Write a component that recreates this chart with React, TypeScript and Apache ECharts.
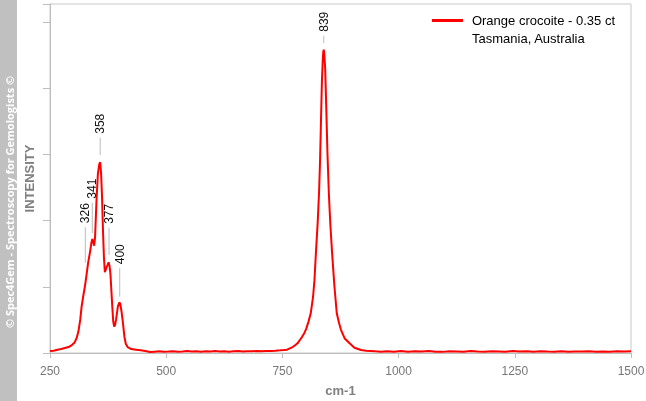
import React, { useEffect, useRef } from "react";
import * as echarts from "echarts";

const wavenumber = [
  250, 258, 266, 274, 282, 290, 297, 303, 307, 311, 315, 318, 322, 325, 328, 332, 336, 339, 341, 343,
  345, 347, 350, 353, 356, 358, 360, 362, 364, 366, 368, 370, 372, 374, 376, 378, 380, 382, 384, 386,
  388, 390, 392, 394, 396, 399, 401, 404, 407, 410, 413, 417, 425, 435, 445, 455, 465, 475, 485, 495,
  505, 515, 525, 535, 545, 555, 565, 575, 585, 595, 605, 615, 625, 635, 645, 655, 665, 675, 685, 695,
  705, 715, 725, 735, 745, 753, 760, 766, 772, 778, 783, 788, 792, 797, 801, 806, 811, 816, 819, 822,
  826, 829, 831, 833, 835, 837, 838, 839, 840, 842, 844, 847, 850, 853, 857, 862, 867, 872, 876, 884,
  894, 905, 919, 930, 940, 950, 962, 975, 990, 1005, 1020, 1035, 1050, 1065, 1080, 1095, 1110, 1125,
  1140, 1155, 1170, 1185, 1200, 1215, 1230, 1245, 1260, 1275, 1290, 1305, 1320, 1335, 1350, 1365, 1380,
  1395, 1410, 1425, 1440, 1455, 1470, 1485, 1500,
];

const intensity = [
  0.03, 0.035, 0.05, 0.06, 0.075, 0.09, 0.12, 0.16, 0.22, 0.32, 0.5, 0.7, 0.88, 1.0, 1.15, 1.36, 1.52, 1.66, 1.72, 1.68,
  1.62, 1.75, 2.3, 2.7, 2.85, 2.88, 2.7, 2.35, 1.85, 1.45, 1.22, 1.26, 1.3, 1.33, 1.37, 1.32, 1.2, 0.95, 0.7, 0.48,
  0.4, 0.42, 0.5, 0.6, 0.7, 0.76, 0.75, 0.62, 0.45, 0.25, 0.14, 0.09, 0.06, 0.05, 0.04, 0.03, 0.015, 0.02, 0.025, 0.018,
  0.022, 0.028, 0.02, 0.024, 0.03, 0.022, 0.026, 0.02, 0.028, 0.024, 0.03, 0.022, 0.027, 0.02, 0.025, 0.03, 0.022, 0.028, 0.025, 0.03,
  0.026, 0.03, 0.032, 0.035, 0.04, 0.045, 0.05, 0.07, 0.09, 0.12, 0.15, 0.2, 0.24, 0.3, 0.36, 0.47, 0.6, 0.85, 1.1, 1.5,
  1.98, 2.45, 2.9, 3.5, 4.1, 4.45, 4.55, 4.58, 4.52, 4.3, 3.8, 3.0, 2.4, 1.96, 1.5, 1.0, 0.6, 0.45, 0.35, 0.22,
  0.15, 0.08, 0.045, 0.035, 0.03, 0.025, 0.02, 0.025, 0.02, 0.03, 0.018, 0.026, 0.022, 0.03, 0.02, 0.017, 0.028, 0.024, 0.02,
  0.03, 0.022, 0.018, 0.027, 0.023, 0.019, 0.029, 0.021, 0.025, 0.018, 0.027, 0.022, 0.02, 0.028, 0.019, 0.024, 0.021,
  0.026, 0.018, 0.023, 0.02, 0.027, 0.022, 0.025,
];

const peakPositions = [326, 341, 358, 377, 400, 839];
const peakLineBottom = [1.36, 1.81, 2.99, 1.48, 0.85, 4.68];
const peakLineTop = [1.9, 2.27, 3.25, 1.89, 1.28, 4.79];

const xTicks = [250, 500, 750, 1000, 1250, 1500];

const seriesName = "Orange crocoite - 0.35 ct";
const seriesSubtitle = "Tasmania, Australia";
const watermark = "© Spec4Gem - Spectroscopy for Gemologists ©";

export default function App() {
  const ref = useRef<HTMLDivElement>(null);
  useEffect(() => {
    const chart = echarts.init(ref.current!, null, { renderer: "svg" });
    const axisColor = "#bdbdbd";
    chart.setOption({
      animation: false,
      grid: {
        left: 50,
        right: 15,
        top: 4,
        bottom: 48,
        show: true,
        borderColor: "#c8c8c8",
        borderWidth: 1,
        outerBoundsMode: "none",
        containLabel: false,
      },
      legend: {
        data: [{ name: seriesName, icon: "rect" }],
        right: 31,
        top: 14,
        padding: 0,
        itemWidth: 31,
        itemHeight: 3,
        textStyle: {
          fontSize: 13,
          color: "#000",
          fontFamily: "Liberation Sans",
          padding: [0, 0, 0, 4],
        },
      },
      xAxis: {
        type: "value",
        min: xTicks[0],
        max: xTicks[xTicks.length - 1],
        interval: xTicks[1] - xTicks[0],
        axisLine: { lineStyle: { color: axisColor, width: 1 } },
        axisTick: { show: true, length: 5, lineStyle: { color: axisColor } },
        axisLabel: {
          color: "#777",
          fontSize: 12,
          fontFamily: "Liberation Sans",
          margin: 12,
          formatter: (v: number) => String(v),
        },
        splitLine: { show: false },
        name: "cm-1",
        nameLocation: "middle",
        nameGap: 31,
        nameTextStyle: { fontWeight: "bold", color: "#808080", fontSize: 13, fontFamily: "Liberation Sans" },
      },
      yAxis: {
        type: "value",
        min: 0,
        max: 5.27,
        interval: 1,
        axisLine: { show: true, lineStyle: { color: axisColor, width: 1 } },
        axisTick: { show: true, length: 7, lineStyle: { color: axisColor } },
        axisLabel: { show: false },
        splitLine: { show: false },
        name: "INTENSITY",
        nameLocation: "middle",
        nameGap: 14,
        nameTextStyle: {
          fontWeight: "bold",
          color: "#808080",
          fontSize: 13,
          fontFamily: "Liberation Sans",
        },
      },
      graphic: [
        {
          type: "rect",
          left: 0,
          top: 0,
          shape: { width: 17, height: 401 },
          style: { fill: "#c0c0c0" },
          silent: true,
        },
        {
          type: "text",
          x: 9,
          y: 202,
          rotation: Math.PI / 2,
          style: {
            text: watermark,
            fill: "#fff",
            font: "bold 11px 'Open Sans'",
            align: "center",
            verticalAlign: "middle",
          },
          silent: true,
        },
        {
          type: "text",
          left: 472,
          top: 32,
          style: {
            text: seriesSubtitle,
            fill: "#000",
            font: "13px 'Liberation Sans'",
          },
          silent: true,
        },
      ],
      series: [
        {
          name: seriesName,
          type: "line",
          data: wavenumber.map((w, i) => [w, intensity[i]]),
          showSymbol: false,
          symbol: "none",
          lineStyle: { color: "#ff0000", width: 2 },
          itemStyle: { color: "#ff0000" },
          z: 3,
        },
        {
          name: "peaks",
          type: "custom",
          data: peakPositions.map((p, i) => [p, peakLineBottom[i], peakLineTop[i]]),
          encode: { x: 0, y: [1, 2] },
          renderItem: (params: any, api: any) => {
            const x = api.value(0);
            const p1 = api.coord([x, api.value(1)]);
            const p2 = api.coord([x, api.value(2)]);
            return {
              type: "group",
              children: [
                {
                  type: "line",
                  shape: { x1: p1[0], y1: p1[1], x2: p2[0], y2: p2[1] },
                  style: { stroke: "#bbbbbb", lineWidth: 1 },
                },
                {
                  type: "text",
                  x: p2[0],
                  y: p2[1] - 4,
                  rotation: Math.PI / 2,
                  style: {
                    text: String(x),
                    fill: "#111",
                    font: "12px 'Liberation Sans'",
                    align: "left",
                    verticalAlign: "middle",
                  },
                },
              ],
            };
          },
          z: 4,
        },
      ],
    });
    return () => chart.dispose();
  }, []);
  return (
    <div
      ref={ref}
      style={{ position: "fixed", left: 0, top: 0, width: 646, height: 401 }}
    />
  );
}
